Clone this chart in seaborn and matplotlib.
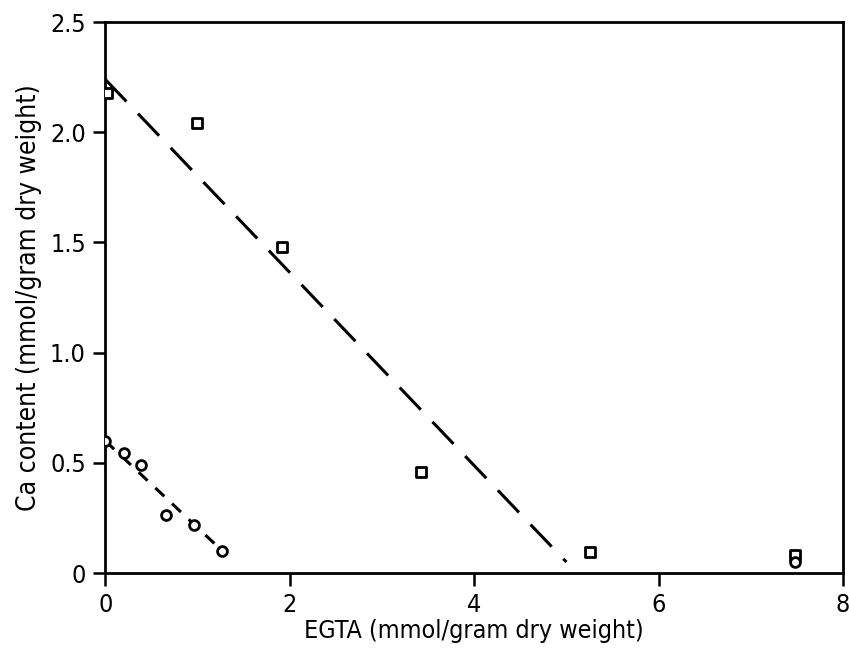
import matplotlib
matplotlib.use("Agg")
import matplotlib.pyplot as plt
import seaborn as sns
import pandas as pd

# Ca content vs EGTA added (mmol / gram dry weight)
square_egta = [0.02, 1.00, 1.92, 3.42, 5.26, 7.48]
square_ca = [2.18, 2.04, 1.48, 0.46, 0.095, 0.08]

circle_egta = [0.00, 0.20, 0.39, 0.66, 0.96, 1.27, 7.48]
circle_ca = [0.60, 0.545, 0.49, 0.265, 0.22, 0.10, 0.05]

# fitted regression lines (end points)
square_fit_egta = [0.0, 5.0]
square_fit_ca = [2.24, 0.05]
circle_fit_egta = [0.0, 1.27]
circle_fit_ca = [0.60, 0.10]

x_ticks = [0, 2, 4, 6, 8]
y_ticks = [0, 0.5, 1.0, 1.5, 2.0, 2.5]
y_tick_labels = ["0", "0.5", "1.0", "1.5", "2.0", "2.5"]

sns.set_theme(style="ticks")
plt.rcParams["font.family"] = ["DejaVu Sans"]
plt.rcParams["font.stretch"] = "condensed"
plt.rcParams["text.color"] = "black"
plt.rcParams["axes.labelcolor"] = "black"

fig = plt.figure(figsize=(8.49, 6.49), dpi=100)
ax = fig.add_axes([0.124, 0.117, 0.869, 0.849])

sq = pd.DataFrame({"egta": square_egta, "ca": square_ca})
ci = pd.DataFrame({"egta": circle_egta, "ca": circle_ca})
sq_fit = pd.DataFrame({"egta": square_fit_egta, "ca": square_fit_ca})
ci_fit = pd.DataFrame({"egta": circle_fit_egta, "ca": circle_fit_ca})

sns.lineplot(data=sq_fit, x="egta", y="ca", ax=ax, color="black",
             linewidth=2.2, zorder=2)
ax.lines[-1].set_dashes([10, 5.5])
sns.lineplot(data=ci_fit, x="egta", y="ca", ax=ax, color="black",
             linewidth=2.2, zorder=2)
ax.lines[-1].set_dashes([4, 3.5])

sns.scatterplot(data=sq, x="egta", y="ca", ax=ax, marker="s", s=50,
                facecolor="white", edgecolor="black", linewidth=2, zorder=3)
sns.scatterplot(data=ci, x="egta", y="ca", ax=ax, marker="o", s=50,
                facecolor="white", edgecolor="black", linewidth=2, zorder=3)

ax.set_xlim(0, 8)
ax.set_ylim(0, 2.5)
ax.set_xticks(x_ticks)
ax.set_xticklabels([str(t) for t in x_ticks])
ax.set_yticks(y_ticks)
ax.set_yticklabels(y_tick_labels)

for side in ["left", "right", "top", "bottom"]:
    ax.spines[side].set_visible(True)
    ax.spines[side].set_linewidth(2)
    ax.spines[side].set_color("black")

ax.tick_params(axis="both", direction="out", length=9, width=1.8,
               labelsize=18, colors="black", pad=5)

ax.set_xlabel("EGTA (mmol/gram dry weight)", fontsize=18, labelpad=2)
ax.set_ylabel("Ca content (mmol/gram dry weight)", fontsize=19, labelpad=6)

fig.savefig("out.png", dpi=100, facecolor="white")
